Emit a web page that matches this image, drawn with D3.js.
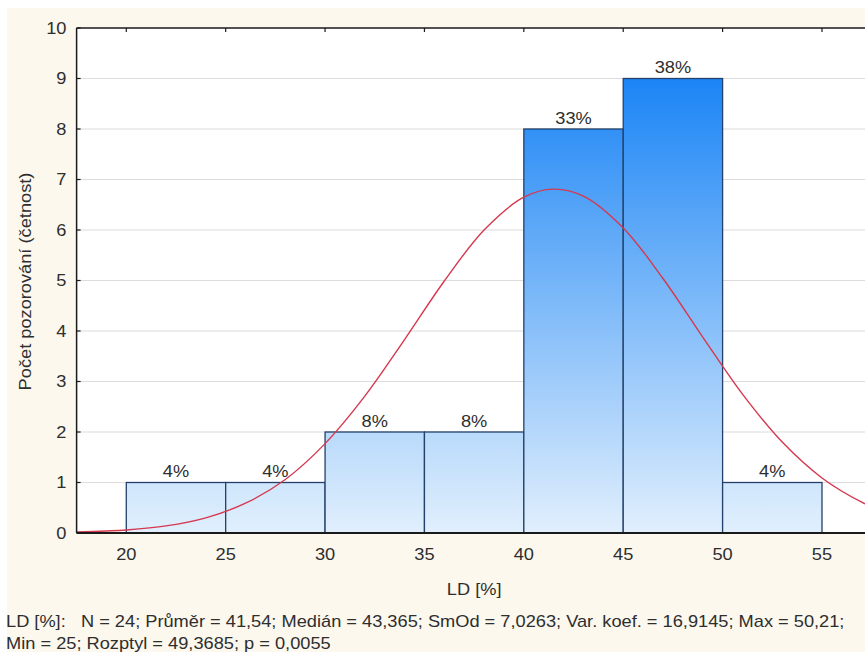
<!DOCTYPE html>
<html>
<head>
<meta charset="utf-8">
<script src="https://cdn.jsdelivr.net/npm/d3@7"></script>
<style>
  html, body { margin: 0; padding: 0; background: #ffffff; }
  svg { display: block; font-family: "Liberation Sans", Arial, sans-serif; }
</style>
</head>
<body>
<svg id="chart" width="865" height="652"></svg>
<script>
// Histogram of LD [%] with fitted normal curve
const binStarts = [20, 25, 30, 35, 40, 45, 50];
const binWidth = 5;
const counts = [1, 1, 2, 2, 8, 9, 1];
const nObs = 24;

// Fitted normal curve (expected frequency per 5-unit bin)
const curveX = [17.5, 19, 20, 22, 24, 26, 28, 30, 32, 34, 36, 38, 40, 41.5, 43, 45, 47, 49, 51, 53, 55, 57, 58];
const curveY = [0.02, 0.04, 0.06, 0.14, 0.30, 0.59, 1.06, 1.77, 2.71, 3.83, 4.99, 6.00, 6.65, 6.81, 6.67, 6.04, 5.04, 3.88, 2.75, 1.80, 1.09, 0.61, 0.44];

const xTicks = [20, 25, 30, 35, 40, 45, 50, 55];
const yTicks = [0, 1, 2, 3, 4, 5, 6, 7, 8, 9, 10];

const xTitle = "LD [%]";
const yTitle = "Počet pozorování (četnost)";
const statsLines = [
  "LD [%]:   N = 24; Průměr = 41,54; Medián = 43,365; SmOd = 7,0263; Var. koef. = 16,9145; Max = 50,21;",
  "Min = 25; Rozptyl = 49,3685; p = 0,0055"
];

const svg = d3.select("#chart");
const W = 865, H = 652;
const textColor = "#2e2e2e";
const stretch = 1.14; // glyphs are rendered slightly wide

// helper: text placed at (px, py), horizontally stretched about its anchor
function label(sel, px, py, rot) {
  return sel.attr("transform", (d, i) => {
    const X = typeof px === "function" ? px(d, i) : px;
    const Y = typeof py === "function" ? py(d, i) : py;
    return `translate(${X},${Y})` + (rot ? ` rotate(${rot})` : "") + ` scale(${stretch},1)`;
  });
}

// panel background
svg.append("rect").attr("x", 0).attr("y", 0).attr("width", W).attr("height", H).attr("fill", "#ffffff");
svg.append("rect").attr("x", 7).attr("y", 8).attr("width", W - 7).attr("height", H - 8).attr("fill", "#fcf8ee");

const plot = { left: 76.6, top: 28, bottom: 533 };
const x = d3.scaleLinear().domain([17.5, 57.5]).range([plot.left, plot.left + 40 * 19.877]);
const y = d3.scaleLinear().domain([0, 10]).range([plot.bottom, plot.top]);

// plot area
svg.append("rect")
  .attr("x", x(17.5)).attr("y", y(10))
  .attr("width", x(57.5) - x(17.5)).attr("height", y(0) - y(10))
  .attr("fill", "#ffffff");

// horizontal grid
svg.append("g")
  .selectAll("line").data(yTicks.filter(d => d > 0 && d < 10)).join("line")
  .attr("x1", x(17.5)).attr("x2", x(57.5))
  .attr("y1", d => y(d)).attr("y2", d => y(d))
  .attr("stroke", "#dcdcdc").attr("stroke-width", 1.2);

// bar gradients: intensity grows with bar height
const defs = svg.append("defs");
const topColor = d3.scaleLinear().domain([0, 9]).range(["#e6f2fd", "#1b85f5"]);
const bars = binStarts.map((b, i) => ({ x0: b, x1: b + binWidth, n: counts[i], i }));
bars.forEach(d => {
  const g = defs.append("linearGradient").attr("id", "barGrad" + d.i)
    .attr("x1", 0).attr("y1", 0).attr("x2", 0).attr("y2", 1);
  g.append("stop").attr("offset", "0%").attr("stop-color", topColor(d.n));
  g.append("stop").attr("offset", "100%").attr("stop-color", "#e1effd");
});

svg.append("g")
  .selectAll("rect").data(bars).join("rect")
  .attr("x", d => x(d.x0)).attr("y", d => y(d.n))
  .attr("width", d => x(d.x1) - x(d.x0))
  .attr("height", d => y(0) - y(d.n))
  .attr("fill", d => `url(#barGrad${d.i})`)
  .attr("stroke", "#23416a").attr("stroke-width", 1.3);

// percentage labels above bars
label(svg.append("g")
  .selectAll("text").data(bars).join("text")
  .attr("text-anchor", "middle")
  .attr("font-size", 16).attr("fill", textColor)
  .text(d => Math.round(d.n / nObs * 100) + "%"),
  d => (x(d.x0) + x(d.x1)) / 2, d => y(d.n) - 5.5);

// fitted normal curve
const line = d3.line().x((d, i) => x(curveX[i])).y(d => y(d)).curve(d3.curveCatmullRom);
svg.append("path")
  .attr("d", line(curveY))
  .attr("fill", "none").attr("stroke", "#d6384f").attr("stroke-width", 1.4);

// frame: left, top and bottom axis lines
const axisColor = "#1a1a1a";
svg.append("line").attr("x1", x(17.5)).attr("x2", x(17.5)).attr("y1", y(10)).attr("y2", y(0))
  .attr("stroke", axisColor).attr("stroke-width", 1.5);
svg.append("line").attr("x1", x(17.5)).attr("x2", x(57.5)).attr("y1", y(10)).attr("y2", y(10))
  .attr("stroke", axisColor).attr("stroke-width", 1.5);
svg.append("line").attr("x1", x(17.5)).attr("x2", x(57.5)).attr("y1", y(0)).attr("y2", y(0))
  .attr("stroke", axisColor).attr("stroke-width", 1.8);

// inward ticks on the top axis
svg.append("g").selectAll("line").data(xTicks).join("line")
  .attr("x1", d => x(d)).attr("x2", d => x(d))
  .attr("y1", y(10)).attr("y2", y(10) + 4)
  .attr("stroke", axisColor).attr("stroke-width", 1.2);

// inward ticks on the left axis
svg.append("g").selectAll("line").data(yTicks).join("line")
  .attr("x1", x(17.5)).attr("x2", x(17.5) + 4)
  .attr("y1", d => y(d)).attr("y2", d => y(d))
  .attr("stroke", axisColor).attr("stroke-width", 1.2);

// x tick labels
label(svg.append("g").selectAll("text").data(xTicks).join("text")
  .attr("text-anchor", "middle").attr("font-size", 16).attr("fill", textColor)
  .text(d => d), d => x(d), 560);

// y tick labels
label(svg.append("g").selectAll("text").data(yTicks).join("text")
  .attr("text-anchor", "end").attr("font-size", 16).attr("fill", textColor)
  .text(d => d), 66.5, d => y(d) + 5.8);

// axis titles
label(svg.append("text")
  .attr("text-anchor", "middle").attr("font-size", 16).attr("fill", textColor)
  .text(xTitle), (x(20) + x(55)) / 2, 595);

label(svg.append("text")
  .attr("text-anchor", "middle").attr("font-size", 16).attr("fill", textColor)
  .text(yTitle), 30.5, (y(0) + y(10)) / 2 + 1, -90);

// summary statistics
label(svg.append("g").selectAll("text").data(statsLines).join("text")
  .attr("font-size", 16).attr("fill", textColor)
  .style("white-space", "pre")
  .text(d => d), 6, (d, i) => 627 + i * 21.5);
</script>
</body>
</html>
